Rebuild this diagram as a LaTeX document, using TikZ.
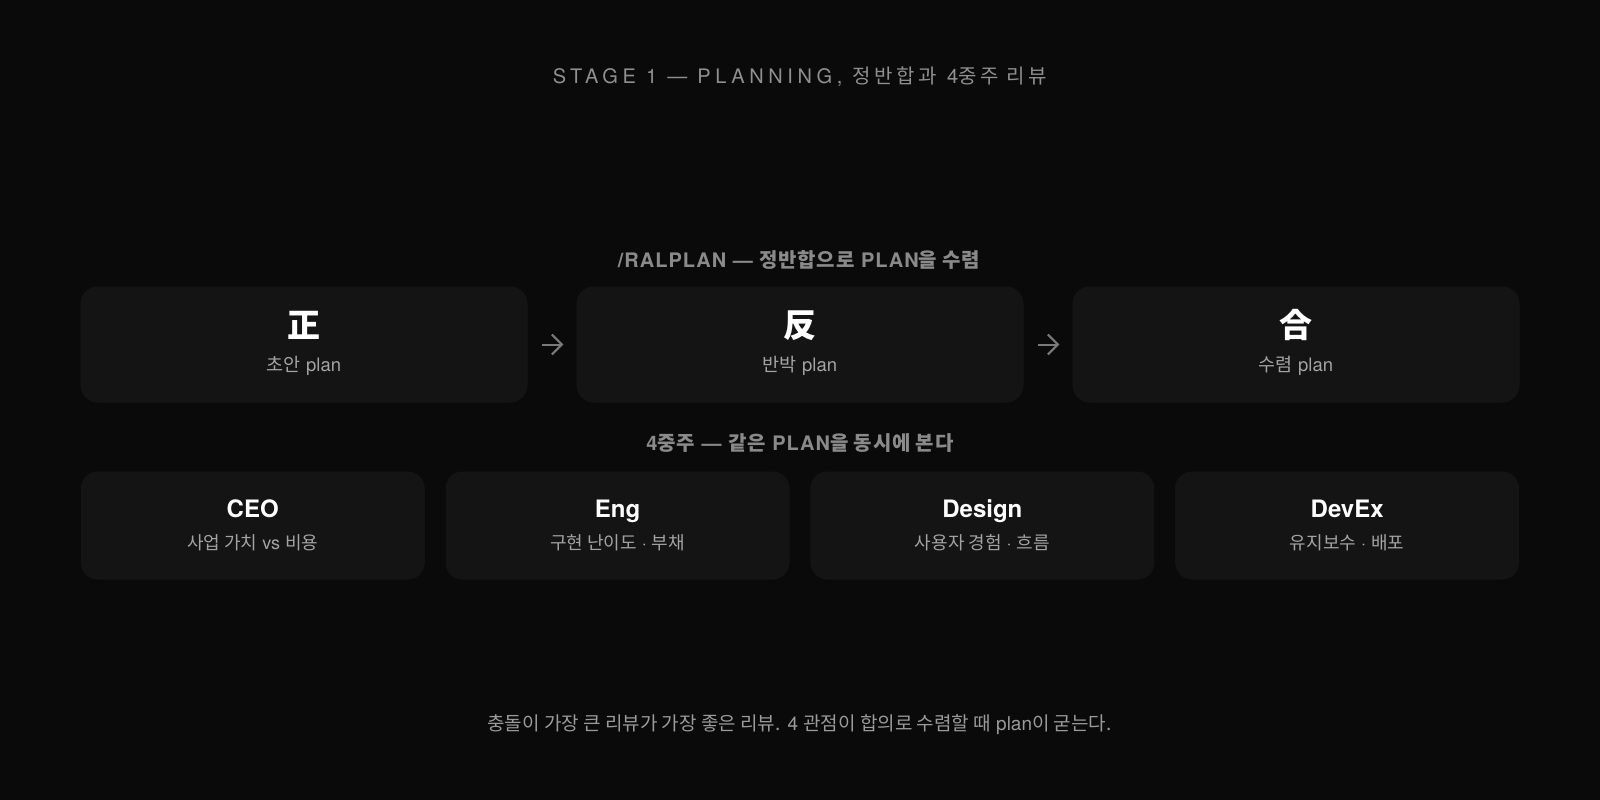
\documentclass[tikz,border=0pt]{standalone}
\usepackage{fontspec}
\setmainfont{TeX Gyre Heros}
\newfontfamily\kr{Noto Sans CJK KR}
\newfontfamily\krsp[LetterSpace=18]{Noto Sans CJK KR}
\newfontfamily\krsec[LetterSpace=4]{Noto Sans CJK KR}
\usetikzlibrary{arrows.meta}
\definecolor{bgc}{HTML}{0A0A0A}
\definecolor{boxc}{HTML}{141414}
\definecolor{titlec}{HTML}{8F8F8F}
\definecolor{secc}{HTML}{8A8A8A}
\definecolor{subc}{HTML}{A3A3A3}
\definecolor{arrc}{HTML}{7A7A7A}
\definecolor{footc}{HTML}{9A9A9A}
\begin{document}
\begin{tikzpicture}[x=1pt, y=-1pt,
  stage box/.style={rectangle, rounded corners=17pt, fill=boxc, minimum width=447pt, minimum height=116pt, inner sep=0pt},
  view box/.style={rectangle, rounded corners=17pt, fill=boxc, minimum width=344pt, minimum height=108pt, inner sep=0pt},
  hanja node/.style={text=white, anchor=base, font=\fontsize{33}{38}\selectfont\kr\bfseries, inner sep=0pt},
  view node/.style={text=white, anchor=base, font=\fontsize{24}{28}\selectfont\bfseries, inner sep=0pt},
  sub node/.style={text=subc, anchor=base, font=\fontsize{18.5}{22}\selectfont, inner sep=0pt},
  small sub node/.style={text=subc, anchor=base, font=\fontsize{18}{21}\selectfont, inner sep=0pt},
  sec node/.style={text=secc, anchor=base, font=\fontsize{20}{24}\selectfont\bfseries\addfontfeature{LetterSpace=5}, inner sep=0pt},
  arr/.style={-{Straight Barb[length=10pt,width=20pt]}, draw=arrc, line width=2pt, shorten <=14pt, shorten >=13pt}]

\fill[bgc] (0,0) rectangle (1600,800);

\node[text=titlec, anchor=base, font=\fontsize{20}{24}\selectfont\addfontfeature{LetterSpace=23}, inner sep=0pt] (title) at (800,83) {STAGE 1 — PLANNING, {\krsp 정반합과} 4{\krsp 중주 리뷰}};

% ralplan
\node[sec node] (sec1) at (799,267) {/RALPLAN — {\krsec 정반합으로} PLAN{\krsec 을 수렴}};
\node[stage box] (p1) at (304,344.5) {};
\node[stage box] (p2) at (800,344.5) {};
\node[stage box] (p3) at (1296,344.5) {};

\node[hanja node] (h1) at (304,337) {正};
\node[hanja node] (h2) at (800,337) {反};
\node[hanja node] (h3) at (1296,337) {合};
\node[sub node] (s1) at (304,371) {{\kr 초안} plan};
\node[sub node] (s2) at (800,371) {{\kr 반박} plan};
\node[sub node] (s3) at (1296,371) {{\kr 수렴} plan};

\path[] (p1) [arr] edge (p2);
\path[] (p2) [arr] edge (p3);

% four views
\node[sec node] (sec2) at (800,450) {4{\krsec 중주} — {\krsec 같은} PLAN{\krsec 을 동시에 본다}};
\node[view box] (v1) at (252.75,525.5) {};
\node[view box] (v2) at (617.55,525.5) {};
\node[view box] (v3) at (982.35,525.5) {};
\node[view box] (v4) at (1347.15,525.5) {};

\node[view node] (c1) at (252.75,517) {CEO};
\node[view node] (c2) at (617.55,517) {Eng};
\node[view node] (c3) at (982.35,517) {Design};
\node[view node] (c4) at (1347.15,517) {DevEx};
\node[small sub node] (d1) at (252.75,549.5) {{\kr 사업 가치} vs {\kr 비용}};
\node[small sub node] (d2) at (617.55,549.5) {{\kr 구현 난이도} · {\kr 부채}};
\node[small sub node] (d3) at (982.35,549.5) {{\kr 사용자 경험} · {\kr 흐름}};
\node[small sub node] (d4) at (1347.15,549.5) {{\kr 유지보수} · {\kr 배포}};

\node[text=footc, anchor=base, font=\fontsize{19}{23}\selectfont, inner sep=0pt] (foot) at (799.5,730) {{\kr 충돌이 가장 큰 리뷰가 가장 좋은 리뷰.} 4 {\kr 관점이 합의로 수렴할 때} plan{\kr 이 굳는다.}};

\useasboundingbox (0,0) rectangle (1600,800);
\end{tikzpicture}
\end{document}
